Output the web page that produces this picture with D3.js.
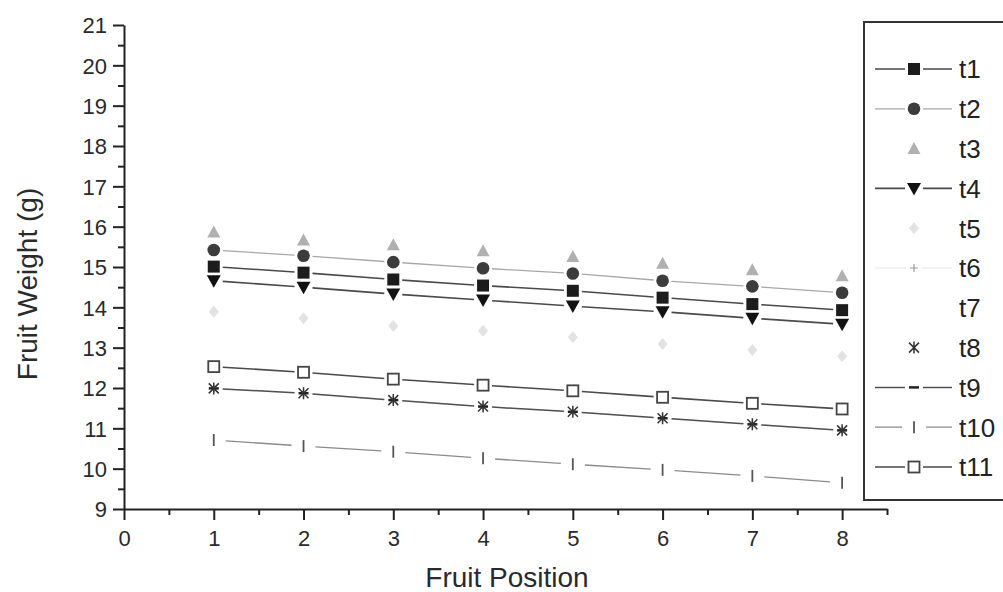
<!DOCTYPE html>
<html><head><meta charset="utf-8">
<script src="https://cdn.jsdelivr.net/npm/d3@7"></script>
<style>body{margin:0;background:#fff}svg{display:block}text{font-family:"Liberation Sans",Arial,sans-serif}</style>
</head><body><svg id="c" width="1003" height="592"></svg>
<script>
const positions = [1,2,3,4,5,6,7,8];
const t1  = [15.01,14.86,14.69,14.54,14.41,14.24,14.08,13.93];
const t2  = [15.42,15.28,15.12,14.97,14.84,14.66,14.52,14.36];
const t3  = [15.87,15.67,15.55,15.40,15.26,15.09,14.93,14.78];
const t4  = [14.66,14.50,14.33,14.18,14.03,13.89,13.73,13.58];
const t5  = [13.89,13.73,13.54,13.42,13.26,13.09,12.94,12.79];
const t6  = [11.99,11.87,11.70,11.54,11.41,11.25,11.10,10.95];
const t7  = [];
const t8  = [11.99,11.87,11.70,11.54,11.41,11.25,11.10,10.95];
const t9  = [11.99,11.87,11.70,11.54,11.41,11.25,11.10,10.95];
const t10 = [10.71,10.56,10.42,10.26,10.11,9.97,9.82,9.65];
const t11 = [12.53,12.39,12.22,12.07,11.93,11.77,11.62,11.48];
const seriesNames = ["t1","t2","t3","t4","t5","t6","t7","t8","t9","t10","t11"];
const xTicks = [0,1,2,3,4,5,6,7,8];
const yTicks = [9,10,11,12,13,14,15,16,17,18,19,20,21];
const xTitle = "Fruit Position";
const yTitle = "Fruit Weight (g)";

const styles = {
  t1:{sym:"square",fill:"#1c1c1c",stroke:"none",line:"#4a4a4a",lw:1.6,gap:9},
  t2:{sym:"circle",fill:"#3c3c3c",stroke:"none",line:"#a8a8a8",lw:1.3,gap:9},
  t3:{sym:"triangle",fill:"#b0b0b0",stroke:"none",line:null},
  t4:{sym:"down",fill:"#111",stroke:"none",line:"#4a4a4a",lw:1.6,gap:9},
  t5:{sym:"diamond",fill:"#e2e2e2",stroke:"none",line:null},
  t6:{sym:"plus",fill:"none",stroke:"#999",line:"#e8e8e8",lw:1.2,gap:8},
  t7:{sym:"none",line:null},
  t8:{sym:"star",fill:"none",stroke:"#333",line:null},
  t9:{sym:"dash",fill:"none",stroke:"#222",line:"#505050",lw:1.5,gap:9},
  t10:{sym:"vbar",fill:"none",stroke:"#555",line:"#8a8a8a",lw:1.3,gap:12},
  t11:{sym:"osquare",fill:"#fff",stroke:"#444",line:"#4a4a4a",lw:1.6,gap:9}
};
const dataMap = {t1,t2,t3,t4,t5,t6,t7,t8,t9,t10,t11};

const svg = d3.select("#c");
const x = d3.scaleLinear().domain([0,8.5]).range([124,887]);
const y = d3.scaleLinear().domain([9,21]).range([509,25]);

const axisColor="#222";
const xAxis = svg.append("g").attr("transform","translate(0,509)")
  .call(d3.axisBottom(x).tickValues(xTicks).tickFormat(d3.format("d")).tickSize(11).tickSizeOuter(0));
svg.append("g").attr("transform","translate(0,509)")
  .call(d3.axisBottom(x).tickValues(d3.range(0.5,8.51,1)).tickFormat("").tickSize(6).tickSizeOuter(0))
  .select(".domain").remove();
const yAxis = svg.append("g").attr("transform","translate(124,0)")
  .call(d3.axisLeft(y).tickValues(yTicks).tickFormat(d3.format("d")).tickSize(11).tickSizeOuter(0));
svg.append("g").attr("transform","translate(124,0)")
  .call(d3.axisLeft(y).tickValues(d3.range(9.5,21,1)).tickFormat("").tickSize(6).tickSizeOuter(0))
  .select(".domain").remove();
svg.selectAll(".domain").attr("stroke",axisColor).attr("stroke-width",2);
svg.selectAll(".tick line").attr("stroke",axisColor).attr("stroke-width",2);
xAxis.selectAll(".tick text").attr("font-size",22).attr("fill","#2a2a2a").attr("y",37).attr("dy",0);
yAxis.selectAll(".tick text").attr("font-size",22).attr("fill","#2a2a2a").attr("x",-17).attr("dy","0.36em");

svg.append("text").attr("x",507).attr("y",587).attr("text-anchor","middle")
  .attr("font-size",28).attr("fill","#2a2a2a").text(xTitle);
svg.append("text").attr("transform","translate(37,284) rotate(-90)").attr("text-anchor","middle")
  .attr("font-size",28).attr("fill","#2a2a2a").text(yTitle);

function drawSym(g, sym, cx, cy, st, s){
  s = s||1;
  if(sym==="square"){g.append("rect").attr("x",cx-6*s).attr("y",cy-6*s).attr("width",12*s).attr("height",12*s).attr("fill",st.fill);}
  else if(sym==="osquare"){g.append("rect").attr("x",cx-5.5*s).attr("y",cy-5.5*s).attr("width",11*s).attr("height",11*s).attr("fill",st.fill).attr("stroke",st.stroke).attr("stroke-width",1.8);}
  else if(sym==="circle"){g.append("circle").attr("cx",cx).attr("cy",cy).attr("r",6.3*s).attr("fill",st.fill);}
  else if(sym==="triangle"){g.append("path").attr("d",`M${cx},${cy-6.5*s}L${cx+6.5*s},${cy+5.5*s}L${cx-6.5*s},${cy+5.5*s}Z`).attr("fill",st.fill);}
  else if(sym==="down"){g.append("path").attr("d",`M${cx-7*s},${cy-5.5*s}L${cx+7*s},${cy-5.5*s}L${cx},${cy+7*s}Z`).attr("fill",st.fill);}
  else if(sym==="diamond"){g.append("path").attr("d",`M${cx},${cy-6*s}L${cx+5*s},${cy}L${cx},${cy+6*s}L${cx-5*s},${cy}Z`).attr("fill",st.fill);}
  else if(sym==="plus"){g.append("path").attr("d",`M${cx-4*s},${cy}H${cx+4*s}M${cx},${cy-4*s}V${cy+4*s}`).attr("stroke",st.stroke).attr("stroke-width",1.2).attr("fill","none");}
  else if(sym==="star"){g.append("path").attr("d",`M${cx-5*s},${cy-5*s}L${cx+5*s},${cy+5*s}M${cx+5*s},${cy-5*s}L${cx-5*s},${cy+5*s}M${cx},${cy-6*s}V${cy+6*s}`).attr("stroke",st.stroke).attr("stroke-width",1.5).attr("fill","none");}
  else if(sym==="dash"){g.append("path").attr("d",`M${cx-5*s},${cy}H${cx+5*s}`).attr("stroke",st.stroke).attr("stroke-width",2.5);}
  else if(sym==="vbar"){g.append("path").attr("d",`M${cx},${cy-6*s}V${cy+6*s}`).attr("stroke",st.stroke).attr("stroke-width",1.8);}
}

function gappedSegments(pts, gap){
  const segs=[];
  for(let i=0;i<pts.length-1;i++){
    const [x0,y0]=pts[i],[x1,y1]=pts[i+1];
    const dx=x1-x0, dy=y1-y0, L=Math.hypot(dx,dy);
    const ux=dx/L, uy=dy/L;
    segs.push([[x0+ux*gap,y0+uy*gap],[x1-ux*gap,y1-uy*gap]]);
  }
  return segs;
}

const plot = svg.append("g");
const order = ["t7","t6","t5","t3","t10","t9","t8","t11","t4","t2","t1"];
order.forEach(name=>{
  const st=styles[name], vals=dataMap[name];
  if(!vals.length) return;
  const pts = vals.map((v,i)=>[x(positions[i]),y(v)]);
  const g = plot.append("g");
  if(st.line){
    gappedSegments(pts, st.gap).forEach(sg=>{
      g.append("path").attr("d",d3.line()(sg)).attr("stroke",st.line).attr("stroke-width",st.lw).attr("fill","none");
    });
  }
  pts.forEach(p=>drawSym(g, st.sym, p[0], p[1], st));
});

const lg = svg.append("g");
lg.append("rect").attr("x",864).attr("y",22).attr("width",200).attr("height",478)
  .attr("fill","#fff").attr("stroke","#333").attr("stroke-width",2);
seriesNames.forEach((name,i)=>{
  const st=styles[name];
  const cy = 69 + i*39.8, cx=914;
  const g = lg.append("g");
  if(st.line){
    g.append("path").attr("d",`M875,${cy}H${cx-st.gap}M${cx+st.gap},${cy}H952`).attr("stroke",st.line).attr("stroke-width",st.lw).attr("fill","none");
  }
  drawSym(g, st.sym, cx, cy, st);
  g.append("text").attr("x",959).attr("y",cy).attr("dy","0.36em").attr("font-size",26).attr("fill","#222").text(name);
});
</script></body></html>
